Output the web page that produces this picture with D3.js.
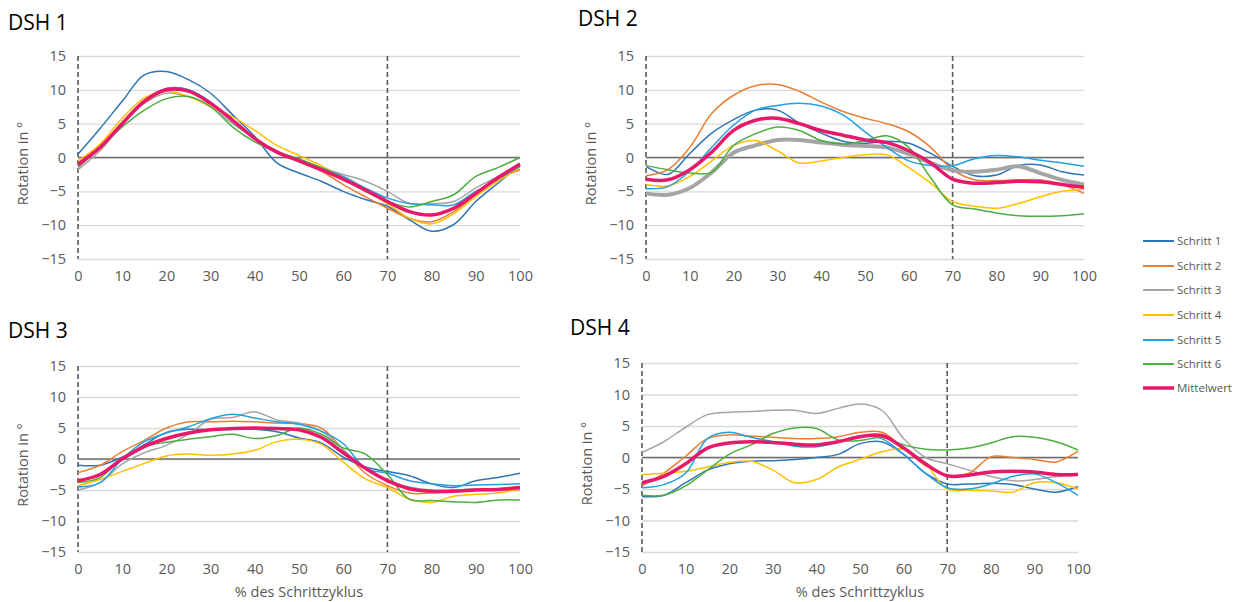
<!DOCTYPE html>
<html>
<head>
<meta charset="utf-8">
<script src="https://cdn.jsdelivr.net/npm/d3@7"></script>
<style>
  body { margin: 0; background: #fff; }
  text { font-family: "Open Sans", "Noto Sans", sans-serif; }
</style>
</head>
<body>
<div id="chart"></div>
<script>
// percent of gait cycle (sample points)
const steps = [0, 5, 10, 15, 20, 25, 30, 35, 40, 45, 50, 55, 60, 65, 70, 75, 80, 85, 90, 95, 100];
const seriesNames = ['Schritt 1', 'Schritt 2', 'Schritt 3', 'Schritt 4', 'Schritt 5', 'Schritt 6', 'Mittelwert'];
const yTicks = [-15, -10, -5, 0, 5, 10, 15];
const xTicks = [0, 10, 20, 30, 40, 50, 60, 70, 80, 90, 100];
const markers = [0, 70];

const dsh1 = [
  [0.5, 4.3, 8.3, 12.2, 12.7, 11.5, 9.5, 6.3, 3.1, -0.8, -2.3, -3.5, -5.0, -6.2, -7.2, -9.2, -10.9, -9.9, -6.5, -3.8, -1.1],
  [-1.5, 1.5, 5.2, 8.5, 10.2, 10.0, 8.0, 5.5, 2.8, 0.8, -0.5, -2.0, -4.0, -5.8, -7.5, -9.0, -9.5, -8.0, -5.5, -3.2, -1.8],
  [-1.8, 1.0, 4.8, 8.0, 9.5, 9.0, 7.5, 5.0, 2.8, 1.0, -0.3, -1.5, -2.5, -3.5, -5.0, -6.8, -6.8, -6.5, -4.5, -2.8, -0.8],
  [-0.5, 2.0, 5.8, 8.8, 9.8, 9.0, 7.5, 6.0, 4.0, 1.8, 0.3, -1.2, -3.0, -4.8, -6.8, -9.0, -9.8, -8.3, -5.8, -3.5, -1.5],
  [-1.3, 1.5, 5.0, 8.2, 10.2, 10.0, 8.2, 5.3, 2.8, 0.8, -0.3, -1.5, -2.8, -4.5, -6.0, -6.8, -7.0, -7.0, -5.0, -3.2, -1.3],
  [-1.2, 1.5, 4.5, 7.0, 8.7, 9.0, 7.5, 4.5, 2.3, 0.8, -0.2, -1.5, -3.0, -5.0, -6.5, -7.3, -6.5, -5.5, -2.8, -1.5, 0.0],
  [-1.0, 1.5, 5.0, 8.3, 10.0, 9.8, 8.0, 5.5, 2.8, 0.8, -0.5, -1.8, -3.2, -4.8, -6.5, -8.0, -8.5, -7.5, -5.3, -3.0, -1.0]
];
const dsh2 = [
  [-1.3, -2.5, 0.6, 3.6, 5.6, 7.0, 7.0, 5.1, 3.6, 2.4, 2.1, 2.4, 2.1, 0.6, -1.3, -2.7, -2.6, -1.2, -1.1, -2.1, -2.6],
  [-2.7, -1.8, 1.5, 6.5, 9.2, 10.6, 10.8, 9.8, 8.2, 6.8, 5.8, 5.0, 3.8, 1.5, -1.8, -3.3, -3.4, -3.3, -3.3, -4.0, -5.3],
  [-5.3, -5.5, -4.5, -2.2, 0.7, 1.8, 2.6, 2.6, 2.2, 1.9, 1.7, 1.5, 0.5, -0.8, -1.9, -2.1, -1.8, -1.3, -2.3, -3.3, -4.0],
  [-4.0, -4.2, -2.8, -0.5, 1.8, 2.5, 1.0, -0.8, -0.5, 0.0, 0.4, 0.4, -1.5, -3.8, -6.5, -7.2, -7.5, -6.8, -5.8, -5.0, -4.7],
  [-4.6, -4.3, -2.0, 1.5, 4.8, 7.0, 7.7, 8.0, 7.6, 6.3, 3.8, 1.5, -0.5, -1.2, -1.2, -0.2, 0.3, 0.1, -0.4, -0.8, -1.3],
  [-1.2, -1.8, -2.3, -2.2, 1.8, 3.5, 4.5, 4.0, 2.5, 2.0, 2.5, 3.2, 1.5, -3.0, -7.0, -7.6, -8.2, -8.6, -8.7, -8.6, -8.3],
  [-3.2, -3.3, -1.8, 0.8, 4.0, 5.5, 5.8, 5.0, 4.0, 3.3, 2.6, 2.2, 1.0, -0.8, -3.2, -3.8, -3.7, -3.5, -3.6, -4.0, -4.4]
];
const dsh3 = [
  [-1.0, -1.0, 0.3, 2.3, 4.3, 4.8, 4.7, 4.8, 4.8, 4.4, 3.4, 2.6, 0.3, -1.3, -2.0, -2.7, -4.0, -4.6, -3.5, -3.0, -2.3],
  [-2.2, -1.0, 1.2, 3.0, 5.0, 6.0, 6.0, 6.1, 6.0, 5.8, 5.7, 5.0, 1.5, -2.3, -4.3, -5.5, -5.5, -5.2, -5.0, -5.0, -5.0],
  [-5.0, -3.8, -0.8, 1.0, 2.2, 4.0, 6.4, 6.7, 7.6, 6.3, 5.8, 4.5, 1.5, -1.5, -3.5, -4.5, -5.0, -5.0, -4.8, -4.8, -4.5],
  [-4.3, -3.3, -2.0, -0.7, 0.5, 0.8, 0.6, 0.8, 1.4, 2.8, 3.2, 2.4, -0.5, -3.2, -4.6, -6.5, -7.0, -6.0, -5.7, -5.5, -4.8],
  [-4.5, -3.8, 0.0, 2.8, 4.2, 5.2, 6.5, 7.2, 6.6, 6.0, 5.6, 4.5, 2.5, -1.5, -2.3, -3.5, -4.0, -4.3, -4.2, -4.1, -4.0],
  [-3.8, -3.0, 0.2, 2.0, 2.7, 3.2, 3.6, 4.0, 3.3, 3.8, 5.0, 4.0, 1.8, 0.8, -2.5, -6.5, -6.7, -6.9, -7.0, -6.6, -6.6],
  [-3.5, -2.5, 0.0, 2.0, 3.3, 4.2, 4.7, 4.9, 5.0, 4.9, 4.7, 3.5, 1.0, -1.5, -3.5, -4.8, -5.2, -5.2, -5.0, -4.9, -4.6]
];
const dsh4 = [
  [-6.2, -6.0, -4.0, -2.0, -1.0, -0.6, -0.5, -0.3, 0.0, 0.5, 2.2, 2.5, 0.5, -2.5, -4.2, -4.2, -4.1, -4.3, -5.0, -5.5, -4.6],
  [-4.5, -2.5, 0.2, 3.0, 3.6, 3.4, 3.2, 3.0, 3.0, 3.3, 4.0, 4.0, 1.5, -1.3, -2.8, -2.5, 0.1, 0.0, -0.3, -0.7, 1.0],
  [0.8, 2.5, 4.8, 6.8, 7.2, 7.3, 7.5, 7.5, 7.0, 7.8, 8.5, 7.5, 3.0, 0.0, -1.0, -2.0, -3.0, -3.7, -3.5, -3.0, -2.8],
  [-2.7, -2.5, -2.2, -1.5, -0.8, -0.6, -2.0, -4.0, -3.5, -1.5, -0.3, 0.9, 1.3, -1.0, -5.0, -5.2, -5.3, -5.5, -4.0, -4.0, -5.0],
  [-4.8, -4.3, -2.5, 3.0, 4.0, 3.2, 2.5, 1.8, 1.7, 2.5, 3.4, 3.0, 0.5, -2.5, -4.8, -5.0, -4.2, -3.0, -2.6, -4.0, -6.0],
  [-6.0, -6.0, -4.5, -2.0, 0.5, 2.0, 3.8, 4.7, 4.6, 2.8, 2.7, 3.2, 2.0, 1.3, 1.2, 1.5, 2.3, 3.3, 3.2, 2.5, 1.2],
  [-4.0, -3.0, -1.0, 1.5, 2.3, 2.5, 2.4, 2.1, 2.0, 2.5, 3.3, 3.5, 1.5, -1.0, -2.9, -2.8, -2.3, -2.2, -2.3, -2.7, -2.7]
];

const colors = ['#2E75B6', '#ED7D31', '#A5A5A5', '#FFC000', '#22A1E0', '#4CAE3F', '#E8196B'];
const textGray = '#595959';

const width = 1240, height = 602;
const svg = d3.select('#chart').append('svg')
  .attr('width', width)
  .attr('height', height);

// panel layout (plot area in pixels)
const panels = [
  { title: 'DSH 1', data: dsh1, x0: 78, x1: 520, y0: 56, y1: 259, tx: 8, ty: 30, xTitle: false, thickGray: false },
  { title: 'DSH 2', data: dsh2, x0: 646, x1: 1084, y0: 56, y1: 259, tx: 578, ty: 26, xTitle: false, thickGray: true },
  { title: 'DSH 3', data: dsh3, x0: 78, x1: 520, y0: 366, y1: 552, tx: 8, ty: 338, xTitle: true, thickGray: false },
  { title: 'DSH 4', data: dsh4, x0: 642, x1: 1078, y0: 363, y1: 552, tx: 570, ty: 335, xTitle: true, thickGray: false }
];

panels.forEach(p => {
  const x = d3.scaleLinear().domain([0, 100]).range([p.x0, p.x1]);
  const y = d3.scaleLinear().domain([-15, 15]).range([p.y1, p.y0]);
  const g = svg.append('g');

  // title
  g.append('text')
    .attr('x', p.tx).attr('y', p.ty)
    .attr('font-size', 21)
    .attr('fill', '#000')
    .text(p.title);

  // y gridlines + labels
  const yAxis = g.append('g')
    .attr('transform', `translate(${p.x0},0)`)
    .call(d3.axisLeft(y).tickValues(yTicks).tickSizeInner(-(p.x1 - p.x0)).tickSizeOuter(0).tickPadding(12));
  yAxis.select('.domain').remove();
  yAxis.selectAll('line').attr('stroke', '#D9D9D9').attr('stroke-width', 1.3);
  yAxis.selectAll('text').attr('font-size', 14.5).attr('fill', textGray)
    .style('font-family', '"Open Sans", sans-serif');

  // x labels
  const xAxis = g.append('g')
    .attr('transform', `translate(0,${p.y1})`)
    .call(d3.axisBottom(x).tickValues(xTicks).tickSize(0).tickPadding(12));
  xAxis.select('.domain').remove();
  xAxis.selectAll('text').attr('font-size', 14.5).attr('fill', textGray)
    .style('font-family', '"Open Sans", sans-serif');

  // zero line
  g.append('line')
    .attr('x1', p.x0).attr('x2', p.x1)
    .attr('y1', y(0)).attr('y2', y(0))
    .attr('stroke', '#6E6E6E').attr('stroke-width', 1.6);

  // dashed markers at 0% and 70%
  g.selectAll('.marker').data(markers).enter().append('line')
    .attr('x1', d => x(d)).attr('x2', d => x(d))
    .attr('y1', y(15)).attr('y2', y(-15))
    .attr('stroke', '#595959').attr('stroke-width', 1.6)
    .attr('stroke-dasharray', '5,3');

  // y axis title
  g.append('text')
    .attr('transform', `translate(${p.x0 - 50},${(p.y0 + p.y1) / 2 + 6}) rotate(-90)`)
    .attr('text-anchor', 'middle')
    .attr('font-size', 14.5)
    .attr('fill', textGray)
    .text('Rotation in °');

  if (p.xTitle) {
    g.append('text')
      .attr('x', (p.x0 + p.x1) / 2).attr('y', 597)
      .attr('text-anchor', 'middle')
      .attr('font-size', 14.5)
      .attr('fill', textGray)
      .text('% des Schrittzyklus');
  }

  const line = d3.line()
    .x((d, i) => x(steps[i]))
    .y(d => y(d))
    .curve(d3.curveCatmullRom.alpha(0.5));

  p.data.forEach((vals, si) => {
    let w = si === 6 ? 3.5 : 1.5;
    if (si === 2 && p.thickGray) w = 4;
    g.append('path')
      .datum(vals)
      .attr('d', line)
      .attr('fill', 'none')
      .attr('stroke', colors[si])
      .attr('stroke-width', w)
      .attr('stroke-linejoin', 'round');
  });
});

// legend
const legendY = [241, 266, 290, 315, 340, 364, 388];
const legend = svg.append('g');
seriesNames.forEach((name, i) => {
  legend.append('line')
    .attr('x1', 1143).attr('x2', 1174)
    .attr('y1', legendY[i]).attr('y2', legendY[i])
    .attr('stroke', colors[i])
    .attr('stroke-width', i === 6 ? 3.5 : 2);
  legend.append('text')
    .attr('x', 1177).attr('y', legendY[i] + 4)
    .attr('font-size', 11.5)
    .attr('fill', textGray)
    .text(name);
});
</script>
</body>
</html>
